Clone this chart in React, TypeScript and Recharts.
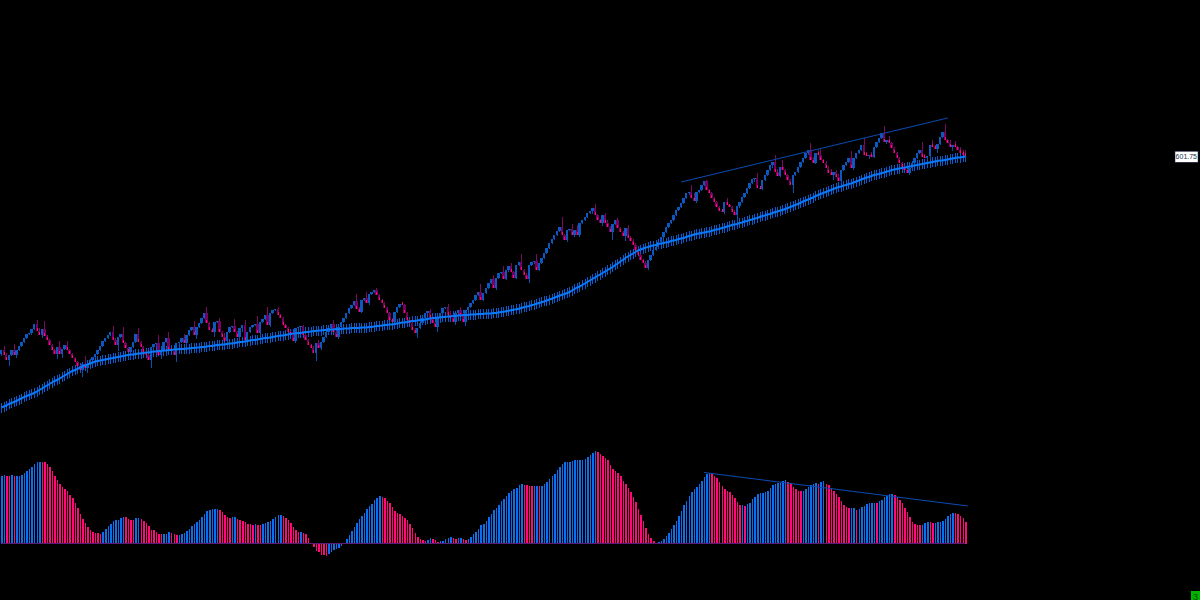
import React from 'react';
import { ComposedChart, Bar, Line, XAxis, YAxis, Cell, ReferenceLine, ReferenceDot } from 'recharts';

const lastPrice = 601.75;
const firstOpen = 404;
const emptySlots = 92;

const closes = [
408,403,398,403,408,403,408,412,416,420,424,425,429,434,427,423,429,422,418,413,408,404,411,404,409,413,408,404,400,396,392,388,394,390,394,398,401,404,408,412,417,420,423,426,418,413,421,424,415,410,406,411,416,424,416,411,406,403,398,411,414,415,403,408,416,420,408,407,403,415,416,420,415,423,428,431,423,431,435,
440,445,435,428,426,436,437,426,421,417,426,431,432,426,421,430,433,418,426,431,433,434,425,436,439,443,433,445,448,449,443,440,433,430,426,423,417,430,431,432,423,418,413,410,405,415,410,416,421,426,430,434,426,421,431,436,440,445,450,453,457,449,446,458,460,455,464,466,468,463,458,455,450,445,438,436,446,451,454,453,445,438,435,428,425,430,435,440,445,447,440,435,431,441,445,450,451,443,440,436,445,448,442,436,448,451,455,458,463,466,
458,465,470,475,479,470,480,485,486,479,488,492,486,480,493,496,488,483,479,493,496,497,488,495,500,505,510,515,519,523,527,531,523,518,528,529,523,528,523,535,538,541,545,547,550,543,538,535,543,535,531,526,534,538,530,526,522,530,520,517,513,508,503,498,495,490,498,503,508,511,516,521,526,531,535,538,543,548,551,555,560,565,
566,560,557,566,568,573,577,568,565,560,556,551,547,546,556,553,551,546,543,552,556,561,565,570,575,579,580,570,569,578,583,588,593,596,586,582,591,588,583,578,573,583,586,591,596,600,605,608,598,595,605,603,598,595,590,585,583,586,581,577,588,593,596,600,590,600,605,608,613,603,602,603,601,611,616,620,625,616,618,615,610,605,600,595,591,588,585,590,595,600,605,608,601,600,602,613,611,609,614,621,626,618,615,611,613,611,608,605,603,lastPrice,
];

const wicks = [
2,4,2,6,1,6,3,1,1,1,1,1,2,1,4,3,3,8,1,1,1,1,5,6,4,1,4,1,1,1,1,1,7,8,5,1,1,1,1,1,1,1,1,1,6,2,6,1,7,1,1,7,1,1,6,1,1,1,1,8,4,3,8,4,1,1,6,1,1,7,1,1,4,5,1,1,6,4,1,1,1,
6,1,2,5,1,3,1,4,5,1,1,7,1,6,4,5,2,1,1,1,8,3,1,1,8,2,1,1,2,1,1,1,1,1,3,2,1,1,1,1,1,1,2,8,3,2,1,1,1,1,4,1,2,1,1,1,1,1,1,7,2,1,1,6,2,1,1,2,1,1,1,1,1,2,3,1,1,1,1,1,1,1,2,5,1,1,1,1,2,1,1,5,1,1,1,3,4,1,3,1,3,3,4,1,1,1,1,1,
8,1,1,1,1,4,2,1,1,6,1,2,3,1,1,1,8,1,2,4,1,2,7,1,1,1,1,1,1,1,1,1,10,1,2,1,5,2,5,2,1,1,1,1,3,4,1,1,3,2,3,1,8,1,2,1,1,5,3,2,2,2,1,1,1,2,2,1,1,1,1,1,1,1,1,1,1,1,1,1,1,1,2,
7,5,2,1,1,1,1,1,1,1,1,1,2,2,4,1,1,2,9,2,1,1,1,1,1,3,5,1,1,1,1,1,3,7,3,1,7,1,1,1,8,1,1,1,1,1,2,7,3,1,3,6,1,2,2,4,5,2,3,2,1,1,1,7,2,1,1,1,7,3,3,3,1,1,1,1,7,2,4,1,1,1,1,1,1,1,2,1,1,1,1,8,3,2,3,5,2,4,1,1,8,1,3,4,4,1,3,3,5,
];

const averages = [
350.5,351.5,352.5,354,355,356,357,358.5,359.5,361,362,363,364,365,
366.5,368,369.5,371,372.5,374,375.5,377,378,379.5,381,382.5,384,
385.5,387,388,389,390.5,391.5,392.5,393.5,394.5,395.5,396.5,397,397.5,
398,398.5,399,399.5,400,400.5,401,401.5,402,402.5,403,403.5,403.5,
404,404.5,404.5,405,405.5,405.5,406,406.5,406.5,407,407,407.5,407.5,
408,408,408.5,408.5,409,409,409,409.5,409.5,410,410,410.5,410.5,
411,411,411.5,412,412,412.5,413,413,413.5,413.5,414,414.5,414.5,
415,415.5,416,416,416.5,417,417.5,418,418,418.5,419,419.5,420,
420,420.5,421,421.5,422,422.5,422.5,423,423.5,424,424.5,424.5,425,
425,425.5,426,426,426.5,427,427,427.5,427.5,428,428,428.5,428.5,
428.5,429,429,429,429.5,429.5,429.5,430,430,430,430,430.5,430.5,
430.5,431,431,431.5,432,432,432.5,433,433,433.5,433.5,434,434.5,
435,435.5,435.5,436,436.5,437,437,437.5,438,438,438.5,439,439.5,
440,440,440.5,440.5,441,441,441.5,441.5,442,442,442.5,442.5,443,
443,443,443.5,443.5,443.5,444,444,444,444.5,444.5,444.5,445,445,
445.5,446,446.2,446.7,447.2,447.7,448.2,448.7,449.3,450,450.7,451.4,452,
452.7,453.4,454.2,455,455.8,456.6,457.5,458.4,459.3,460.2,461.2,462.2,463.2,
464,465,466,467.5,469,470.5,471.5,473,474.5,476,477.5,479,480.5,
482,483.5,485,486.5,488,489.5,491,493,494.5,496.5,498,500,501.5,
503,504.5,506,507.5,508.5,509.5,510.5,511,512,512.5,513,514,514.5,
515,515.5,516,517,517.5,518,519,519.5,520,521,522,522.5,523.5,
524,524.5,525,525.5,526,526.5,527,528,528.5,529,530,530.5,531.5,
532,533,533.5,534,535,535.5,536.5,537,538,538.5,539.5,540,541,
542,542.5,543.5,544,545,546,546.5,547.5,548,549,550,551,552,
553,554,555,556.5,557.5,558.5,559.5,560.5,562,563,564,565,566,
567,568,569,570,571,571.5,572.5,573,574,574.5,575.5,576.5,577.5,
578.5,579.5,580.5,581,582,583,583.5,584,585,585.5,586.5,587,588,
588.5,589,589.5,590,590.5,591,591.5,592,592.5,593,593.5,594,594.5,
595,595.5,596,596.5,597,597.5,597.5,598,598.5,599,599.5,600,600.5,600.5,601,601.5,
];

const oscillator = [
67.3,68.3,67.7,67.3,68.3,67.3,67.3,68,68.3,70.3,72.3,74.7,76.7,80,81.7,82,81.7,81.3,79.3,76.7,72.7,67.7,63.3,59.7,56.7,54.3,53,49,45.3,40.7,35.3,29.3,24.3,20.3,16.3,14,11.7,10.7,10.3,10,
11.7,14.3,17.3,19.7,22.3,23.3,24,25.3,27,26.7,25,23.7,23.3,25.3,25.3,24.7,22.7,21,17.7,14,13.3,12,10,9.3,9.3,10,11.3,10.3,9.3,8.3,8.3,9.3,10.3,12.3,14.7,17.3,19.7,21.3,23.3,
26.7,29.7,33,34,34.3,34.3,34.3,33.3,31.3,29,26.3,26,26.7,27,25,23.7,23,21.3,19.7,19.3,19,19.3,19,18.7,19.3,21,22,23,25,26.7,28.7,29,28,26,23.3,20.7,17,14,12,12,10.7,9.3,5.7,0.7,
-3.7,-7.3,-8.7,-11.3,-11.7,-12,-10.3,-8,-6.7,-5.7,-4.3,-2,
1,4.7,8.3,13,17,20.3,24.3,27.3,31,34.3,37.3,40,44,46,47.3,46.7,45.3,43,40.3,36.3,32.3,30.3,29.3,28,25.7,23.3,20,15.3,10.3,6.3,4.3,3.3,3,4,5.3,4.7,3.3,2,2.3,2.3,4.7,6,6.3,5.3,5,5.3,5.7,
4.7,4,5,6.3,9.3,11.3,15,18.3,20,22.3,26.7,30,33.3,35.3,39,42.3,45,48,50.3,53,54.3,56,58.3,60,59,58.3,57.7,57.3,58,58,57.7,58,60,61.7,64.3,67.3,70,73.3,76.7,80,81.3,81.3,81.7,83,83.3,83.3,83.3,84,85,86.3,88.7,90.7,92.3,91.3,89.3,87.3,85.7,83.3,78.7,74.7,73,70.3,67.3,62.7,59.3,55.7,51.7,46.3,41.3,35,29,22.3,15.3,9.3,5.3,2.7,1,1.3,2.3,4.3,7.3,10.3,14.3,18.3,22.3,27.3,32.3,38.3,42.3,47.7,52,55,56.3,60,
62.3,66.3,69.3,70.3,69.3,67.3,65.3,61.3,57.7,55,53,51.3,49,45.3,41.3,38.3,38.3,38,39.3,41,44.3,46.3,49.3,50.3,50.3,51.3,53,55.3,58.3,60,60.3,60.3,62.7,63.3,61.7,60.3,56.3,54.3,53,52.3,53,54.3,56.3,58.3,60,60.3,59.3,61.7,62.7,59.3,58.3,55.3,52.3,49.3,46.3,42.3,38.3,36.3,35.3,35.3,35.3,33.3,34.3,36.3,37.3,39.3,40.3,40.3,41,40.7,42.3,43.3,46.3,48,49.3,
49.3,48.3,46.7,44,40.7,36,31.7,26.7,22,20,18.7,18.3,19,20.3,21.7,21.3,20.7,21,21.7,21.7,23,25,28,30,31,30.3,30,27.3,25.3,21.3,
];

const bandHalf = 5;

const rows = closes.map((close, i) => {
  const open = i === 0 ? firstOpen : closes[i - 1];
  const wick = wicks[i] ?? 1;
  const up = close >= open;
  return {
    idx: i,
    up,
    body: [open, close],
    core: up ? null : [close, close + 3],
    range: up ? [Math.min(open, close) - wick, Math.max(open, close)] : [Math.min(open, close), Math.max(open, close) + wick],
    ma: averages[i],
    band: [averages[i] - bandHalf, averages[i] + bandHalf],
    osc: oscillator[i],
    oscUp: i === 0 ? true : oscillator[i] >= oscillator[i - 1],
  };
});
const table: any[] = [...rows, ...Array.from({ length: emptySlots }, (_, k) => ({ idx: closes.length + k }))];
const lastIdx = closes.length - 1;

const Tag = (props: any) => (
  <g>
    <rect x={1175} y={props.cy - 5} width={23} height={11} fill="#ffffff" stroke="#20204a" strokeWidth={0.5} />
    <text x={1175.6} y={props.cy + 3} fontSize={7} fontFamily="Liberation Sans" fill="#22304a">
      {lastPrice}
    </text>
  </g>
);
const Badge = (props: any) => (
  <g>
    <rect x={1191} y={props.cy - 4.5} width={9} height={10} fill="#00b400" />
    <text x={1193} y={props.cy + 4} fontSize={9} fontFamily="Liberation Sans" fill="#004a00">3</text>
  </g>
);

export default function App() {
  const axes = ['wick', 'body', 'core', 'band', 'osc', 'main'];
  return (
    <div style={{ position: 'absolute', left: 0, top: 0, width: 1200, height: 600, background: '#000', overflow: 'hidden' }}>
      <ComposedChart width={1200} height={600} data={table} margin={{ top: 0, right: 0, bottom: 0, left: 0 }} barCategoryGap={0} barGap={0}>
        {axes.map((a) => (
          <XAxis key={a} xAxisId={a} dataKey="idx" type="category" hide padding={{ left: 0, right: 0 }} />
        ))}
        <YAxis yAxisId="price" hide domain={[158, 758]} allowDataOverflow />
        <YAxis yAxisId="oscAxis" hide domain={[-56.5, 543.5]} allowDataOverflow />

        <Bar xAxisId="band" yAxisId="price" dataKey="band" barSize={1} fill="#0a5ad0" shapeRendering="crispEdges" isAnimationActive={false} />
        <Line xAxisId="main" yAxisId="price" dataKey="ma" stroke="#0a78fa" strokeWidth={2} dot={false} activeDot={false} isAnimationActive={false} />
        <Bar xAxisId="wick" yAxisId="price" dataKey="range" barSize={1} shapeRendering="crispEdges" isAnimationActive={false}>
          {table.map((r, i) => (
            <Cell key={i} fill={r.up ? '#0a4fa8' : '#7a0a62'} />
          ))}
        </Bar>
        <Bar xAxisId="body" yAxisId="price" dataKey="body" barSize={2.4} shapeRendering="crispEdges" isAnimationActive={false}>
          {table.map((r, i) => (
            <Cell key={i} fill={r.up ? '#0a58c0' : '#780060'} />
          ))}
        </Bar>
        <Bar xAxisId="core" yAxisId="price" dataKey="core" barSize={1} fill="#ff0a78" shapeRendering="crispEdges" isAnimationActive={false} />

        <Bar xAxisId="osc" yAxisId="oscAxis" dataKey="osc" barSize={1.5} shapeRendering="crispEdges" isAnimationActive={false}>
          {table.map((r, i) => (
            <Cell key={i} fill={r.oscUp ? '#0a70f0' : '#ff0a78'} />
          ))}
        </Bar>
        <ReferenceLine
          xAxisId="main"
          yAxisId="oscAxis"
          segment={[{ x: 0, y: 0 }, { x: lastIdx, y: 0 }]}
          stroke="#5a1a78"
          strokeWidth={1}
        />
        <ReferenceLine
          xAxisId="main"
          yAxisId="price"
          segment={[{ x: 268, y: 576 }, { x: 373, y: 640 }]}
          stroke="#0a4cb4"
          strokeWidth={1}
        />
        <ReferenceLine
          xAxisId="main"
          yAxisId="oscAxis"
          segment={[{ x: 277, y: 71 }, { x: 381, y: 37.5 }]}
          stroke="#0a4cb4"
          strokeWidth={1}
        />
        <ReferenceDot xAxisId="main" yAxisId="price" x={466} y={lastPrice} r={1} shape={Tag} ifOverflow="visible" />
        <ReferenceDot xAxisId="main" yAxisId="price" x={470} y={162.5} r={1} shape={Badge} ifOverflow="visible" />
      </ComposedChart>
    </div>
  );
}
